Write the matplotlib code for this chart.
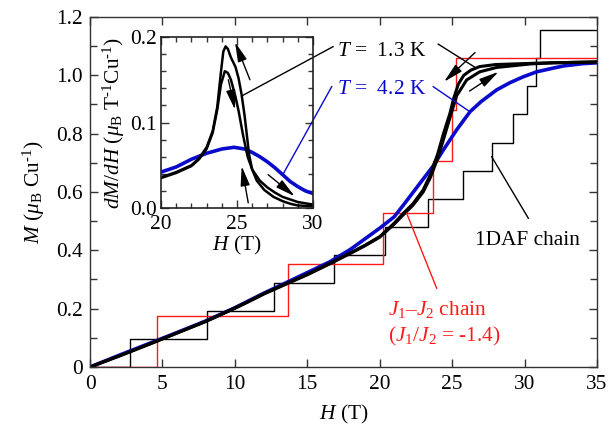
import matplotlib
matplotlib.use("Agg")
import matplotlib.pyplot as plt
from matplotlib.ticker import MultipleLocator

plt.rcParams['font.family'] = ['Liberation Serif', 'DejaVu Serif']
plt.rcParams['mathtext.fontset'] = 'custom'
plt.rcParams['mathtext.rm'] = 'Liberation Serif'
plt.rcParams['mathtext.it'] = 'Liberation Serif:italic'
plt.rcParams['mathtext.bf'] = 'Liberation Serif:bold'
plt.rcParams['font.size'] = 15.4

# ---------------- data ----------------
# 1.3 K magnetization, two sweeps (H in T, M in muB/Cu)
H_13a = [0, 2, 4, 6, 8, 10, 11, 12, 13.58, 15, 16.57, 18, 19, 20, 21, 21.63, 22.3, 23, 23.5,
         24, 24.4, 24.85, 25.1, 25.43, 25.8, 26.3, 26.9, 28, 29.2, 31, 33, 35]
M_13a = [0, 0.038, 0.077, 0.117, 0.157, 0.203, 0.227, 0.252, 0.287, 0.318, 0.356, 0.392, 0.418,
         0.447, 0.493, 0.527, 0.56, 0.607, 0.66, 0.73, 0.80, 0.87, 0.92, 0.97, 1.0, 1.018, 1.03,
         1.037, 1.039, 1.042, 1.044, 1.046]
H_13b = [0, 2, 4, 6, 8, 10, 11, 12, 13.58, 15, 16.57, 18, 19, 20, 21, 21.63, 22.3, 23, 23.5,
         24, 24.4, 24.85, 25.31, 26, 26.9, 28.07, 30.4, 32, 35]
M_13b = [0, 0.037, 0.076, 0.116, 0.156, 0.201, 0.225, 0.25, 0.285, 0.316, 0.354, 0.39, 0.416,
         0.445, 0.49, 0.522, 0.555, 0.6, 0.65, 0.715, 0.78, 0.855, 0.93, 0.984, 1.012, 1.027,
         1.039, 1.043, 1.046]
# 4.2 K magnetization
H_42 = [0, 2, 4, 6, 8, 10, 12, 14, 16.57, 18, 20, 21, 21.63, 22.78, 23.7, 24.39, 25.31, 26.23,
        27, 28.07, 29, 29.91, 30.83, 32, 32.67, 34, 35]
M_42 = [0, 0.04, 0.079, 0.118, 0.158, 0.203, 0.253, 0.3, 0.361, 0.404, 0.476, 0.515, 0.555,
        0.63, 0.69, 0.744, 0.813, 0.875, 0.91, 0.95, 0.975, 0.995, 1.012, 1.025, 1.032, 1.04,
        1.043]

# 1DAF chain staircase
H_1daf = [0, 2.76, 8.05, 12.73, 16.87, 20.36, 23.36, 25.77, 27.73, 29.18, 30.14, 30.79, 31.07, 35]
M_1daf = [0, 0.096, 0.192, 0.288, 0.385, 0.481, 0.577, 0.673, 0.769, 0.866, 0.962, 1.058, 1.154, 1.154]
# J1-J2 chain staircase
H_j1j2 = [0, 4.6, 13.65, 20.2, 23.65, 24.97, 25.3, 35]
M_j1j2 = [0, 0.176, 0.353, 0.529, 0.705, 0.881, 1.058, 1.058]

# inset dM/dH
Hd_42 = [20, 21, 22, 23, 24, 24.8, 25.5, 26, 26.5, 27, 27.5, 28, 28.5, 29, 29.5, 30]
D_42 = [0.042, 0.048, 0.057, 0.064, 0.069, 0.071, 0.069, 0.065, 0.060, 0.054, 0.047, 0.039,
        0.031, 0.025, 0.020, 0.017]
Hd_13a = [20, 21, 22, 22.5, 23, 23.4, 23.7, 23.95, 24.1, 24.25, 24.4, 24.6, 24.9, 25.1, 25.3,
          25.5, 25.65, 25.8, 26.0, 26.3, 26.8, 27.4, 28, 28.5, 29, 30]
D_13a = [0.036, 0.042, 0.050, 0.058, 0.071, 0.090, 0.118, 0.160, 0.183, 0.189, 0.186, 0.176,
         0.165, 0.152, 0.133, 0.108, 0.085, 0.062, 0.045, 0.032, 0.021, 0.013, 0.008, 0.005,
         0.003, 0.002]
Hd_13b = [20, 21, 22, 22.5, 23, 23.4, 23.7, 23.95, 24.2, 24.4, 24.6, 24.9, 25.1, 25.4, 25.7,
          26.0, 26.5, 27, 27.5, 28, 28.5, 29, 30]
D_13b = [0.035, 0.041, 0.049, 0.057, 0.069, 0.088, 0.115, 0.145, 0.160, 0.158, 0.150, 0.130,
         0.114, 0.085, 0.060, 0.045, 0.032, 0.024, 0.018, 0.013, 0.010, 0.007, 0.004]

xticks_main = [0, 5, 10, 15, 20, 25, 30, 35]
yticks_main = [0, 0.2, 0.4, 0.6, 0.8, 1.0, 1.2]
ytick_labels_main = ['0', '0.2', '0.4', '0.6', '0.8', '1.0', '1.2']

BLUE = '#0a0acc'
RED = '#ff1a1a'

fig = plt.figure(figsize=(6.10, 4.28), dpi=100)
ax = fig.add_axes([90/610, 1 - 367/428, (597-90)/610, (367-17)/428])

ax.plot(H_1daf, M_1daf, drawstyle='steps-post', color='black', lw=1.0)
ax.plot(H_j1j2, M_j1j2, drawstyle='steps-post', color=RED, lw=1.0)
ax.plot(H_42, M_42, color=BLUE, lw=2.6, solid_capstyle='round')
ax.plot(H_13a, M_13a, color='black', lw=2.2)
ax.plot(H_13b, M_13b, color='black', lw=2.2)

ax.set_xlim(0, 35)
ax.set_ylim(0, 1.2)
ax.set_xticks(xticks_main)
ax.set_yticks(yticks_main)
ax.set_yticklabels(ytick_labels_main)
ax.yaxis.set_minor_locator(MultipleLocator(0.1))
ax.tick_params(which='both', direction='in', top=True, right=True, color='#333333')
ax.tick_params(which='major', length=6, width=1)
ax.tick_params(which='minor', length=5, width=1)
ax.tick_params(axis='x', pad=6)
ax.tick_params(axis='y', pad=5)
for s in ax.spines.values():
    s.set_color('#333333')
    s.set_linewidth(1.0)
ax.set_xlabel(r'$H$ (T)', labelpad=6)
ax.set_ylabel(r'$M$ ($\mu_\mathrm{B}$ Cu$^{\text{-1}}$)', labelpad=7)

arrow_kw = dict(arrowstyle='-|>,head_length=0.85,head_width=0.2', color='black', lw=1.0,
                shrinkA=0, shrinkB=0, mutation_scale=14)
ax.annotate('', xy=(24.44, 0.978), xytext=(26.58, 1.078), arrowprops=arrow_kw)
ax.annotate('', xy=(28.2, 1.012), xytext=(26.2, 0.946), arrowprops=arrow_kw)

# annotation lines
ax.plot([24.04, 26.69], [1.107, 1.024], color='black', lw=1.0)
ax.plot([23.7, 26.23], [0.961, 0.875], color=BLUE, lw=1.0)
ax.plot([27.73, 30.26], [0.721, 0.51], color='black', lw=1.0)
ax.plot([21.86, 23.93], [0.527, 0.27], color=RED, lw=1.0)

ax.text(17.03, 1.066, r'$T$ =  1.3 K', color='black', va='baseline', ha='left')
ax.text(17.03, 0.936, r'$T$ =  4.2 K', color=BLUE, va='baseline', ha='left')
ax.text(26.58, 0.418, '1DAF chain', color='black', va='baseline', ha='left')
ax.text(20.55, 0.178, r'$J_1$–$J_2$ chain', color=RED, va='baseline', ha='left')
ax.text(20.55, 0.087, r'($J_1$/$J_2$ = -1.4)', color=RED, va='baseline', ha='left')

# ---------------- inset ----------------
ins = fig.add_axes([161/610, 1 - 208/428, (313-161)/610, (208-37)/428])
ins.plot(Hd_42, D_42, color=BLUE, lw=2.6)
ins.plot(Hd_13a, D_13a, color='black', lw=1.8)
ins.plot(Hd_13b, D_13b, color='black', lw=1.8)
ins.set_xlim(20, 30)
ins.set_ylim(0, 0.2)
ins.set_xticks([20, 25, 30])
ins.set_yticks([0, 0.1, 0.2])
ins.set_yticklabels(['0.0', '0.1', '0.2'])
ins.xaxis.set_minor_locator(MultipleLocator(1))
ins.yaxis.set_minor_locator(MultipleLocator(0.02))
ins.tick_params(which='both', direction='in', top=True, right=True, color='#333333')
ins.tick_params(which='major', length=6, width=1)
ins.tick_params(which='minor', length=3.5, width=1)
ins.tick_params(axis='x', pad=5)
ins.tick_params(axis='y', pad=3)
for s in ins.spines.values():
    s.set_color('#222222')
    s.set_linewidth(1.2)
ins.set_xlabel(r'$H$ (T)', labelpad=0)
ins.set_ylabel(r'$dM/dH$ ($\mu_\mathrm{B}$ T$^{\text{-1}}$Cu$^{\text{-1}}$)', labelpad=2)

ins.annotate('', xy=(24.87, 0.194), xytext=(25.85, 0.150), arrowprops=arrow_kw)
ins.annotate('', xy=(24.87, 0.115), xytext=(24.43, 0.150), arrowprops=arrow_kw)
ins.annotate('', xy=(25.31, 0.049), xytext=(25.74, 0.006), arrowprops=arrow_kw)
ins.annotate('', xy=(28.8, 0.0136), xytext=(27.05, 0.039), arrowprops=arrow_kw)

ins.plot([25.41, 31.32], [0.132, 0.1887], color='black', lw=1.0, clip_on=False)
ins.plot([28.0, 31.23], [0.0386, 0.1419], color=BLUE, lw=1.0, clip_on=False)

fig.savefig('out.png', dpi=100)
